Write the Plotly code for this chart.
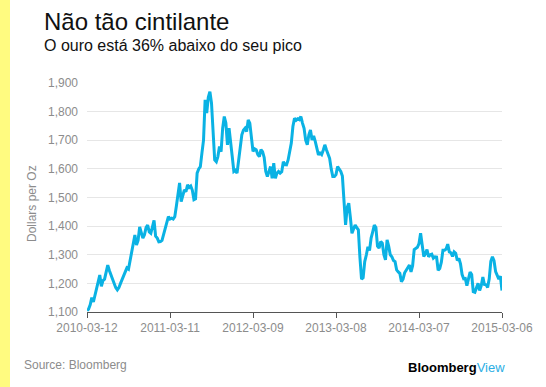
import pandas as pd
import plotly.graph_objects as go

# Weekly gold price (USD/oz), Friday closes, starting 2010-03-12
start_date = "2010-03-12"
prices_2010 = [1105, 1110, 1125, 1150, 1135, 1160, 1175, 1210, 1229, 1190, 1210, 1215, 1240, 1264,
               1245, 1230, 1210, 1195, 1185, 1177, 1185, 1200, 1215, 1228, 1240, 1254, 1250, 1280,
               1305, 1330, 1369, 1334, 1350, 1397, 1375, 1358, 1370, 1395, 1404, 1380, 1375, 1400, 1420]
prices_2011 = [1365, 1358, 1345, 1346, 1350, 1370, 1397, 1415, 1433, 1425, 1428, 1425, 1433, 1470,
               1503, 1551, 1486, 1505, 1527, 1520, 1544, 1535, 1540, 1525, 1492, 1495, 1585, 1600,
               1608, 1655, 1700, 1841, 1795, 1850, 1870, 1830, 1726, 1631, 1625, 1643, 1678, 1660,
               1742, 1783, 1760, 1684, 1742, 1700, 1643, 1591, 1595, 1585]
prices_2012 = [1625, 1665, 1719, 1735, 1742, 1730, 1771, 1760, 1713, 1661, 1670, 1667, 1650, 1643,
               1667, 1660, 1640, 1591, 1573, 1590, 1608, 1567, 1620, 1567, 1585, 1591, 1585, 1590,
               1625, 1615, 1614, 1631, 1665, 1690, 1748, 1777, 1770, 1775, 1772, 1783, 1760, 1742,
               1700, 1684, 1719, 1736, 1701, 1715, 1696, 1670, 1649, 1655]
prices_2013 = [1650, 1665, 1684, 1667, 1650, 1637, 1600, 1573, 1573, 1580, 1608, 1600, 1591, 1575,
               1470, 1404, 1465, 1480, 1430, 1375, 1390, 1404, 1395, 1387, 1290, 1215, 1220, 1276,
               1299, 1328, 1315, 1358, 1380, 1404, 1395, 1330, 1323, 1346, 1340, 1300, 1282, 1352,
               1330, 1300, 1293, 1280, 1276, 1247, 1240, 1235, 1206, 1215]
prices_2014 = [1237, 1247, 1252, 1264, 1240, 1262, 1318, 1323, 1326, 1339, 1375, 1334, 1294, 1303,
               1318, 1293, 1300, 1302, 1288, 1293, 1292, 1246, 1252, 1274, 1316, 1316, 1320, 1337,
               1310, 1307, 1294, 1310, 1305, 1280, 1287, 1268, 1231, 1216, 1217, 1192, 1222, 1239,
               1231, 1171, 1169, 1185, 1200, 1175, 1192, 1222, 1196, 1195]
prices_2015 = [1186, 1216, 1277, 1293, 1279, 1241, 1228, 1215, 1225, 1175]

prices = prices_2010 + prices_2011 + prices_2012 + prices_2013 + prices_2014 + prices_2015
dates = pd.date_range(start=start_date, periods=len(prices), freq="W-FRI")

x_ticks = ["2010-03-12", "2011-03-11", "2012-03-09", "2013-03-08", "2014-03-07", "2015-03-06"]
y_ticks = [1100, 1200, 1300, 1400, 1500, 1600, 1700, 1800, 1900]

W, H = 546, 387
L, R, T, B = 87, 44, 83, 75
PW, PH = W - L - R, H - T - B

def px(x):
    return (x - L) / PW

def py(y):
    return (H - B - y) / PH

FONT = "Liberation Sans, Arial, sans-serif"
GRAY = "#8c8c8c"

fig = go.Figure()
fig.add_trace(go.Scatter(x=dates, y=prices, mode="lines",
                         line=dict(color="#0ab2e4", width=3), hoverinfo="x+y"))

fig.update_layout(
    width=W, height=H,
    margin=dict(l=L, r=R, t=T, b=B),
    paper_bgcolor="white", plot_bgcolor="white",
    showlegend=False,
    xaxis=dict(
        range=[x_ticks[0], x_ticks[-1]],
        tickvals=x_ticks, ticktext=x_ticks,
        showgrid=False, zeroline=False,
        showline=True, linecolor="#555555", linewidth=1,
        ticks="outside", ticklen=5, tickcolor="#555555",
        tickfont=dict(family=FONT, size=12, color=GRAY),
    ),
    yaxis=dict(
        range=[1100, 1900],
        tickvals=y_ticks, tickformat=",d",
        showgrid=True, gridcolor="#e6e6e6", gridwidth=1,
        zeroline=False, showline=False, ticks="",
        ticklabelstandoff=8,
        tickfont=dict(family=FONT, size=12, color=GRAY),
    ),
    shapes=[dict(type="rect", xref="paper", yref="paper",
                 x0=px(0), x1=px(10), y0=py(H), y1=py(0),
                 fillcolor="#fffb80", line=dict(width=0), layer="above")],
    annotations=[
        dict(text="Não tão cintilante", xref="paper", yref="paper",
             x=px(42), y=py(22), xanchor="left", yanchor="middle", showarrow=False,
             font=dict(family=FONT, size=24, color="#111111")),
        dict(text="O ouro está 36% abaixo do seu pico", xref="paper", yref="paper",
             x=px(42), y=py(46), xanchor="left", yanchor="middle", showarrow=False,
             font=dict(family=FONT, size=16, color="#111111")),
        dict(text="Dollars per Oz", xref="paper", yref="paper",
             x=px(32), y=py(203), xanchor="center", yanchor="middle", showarrow=False,
             textangle=-90, font=dict(family=FONT, size=12, color=GRAY)),
        dict(text="Source: Bloomberg", xref="paper", yref="paper",
             x=px(22), y=py(365), xanchor="left", yanchor="middle", showarrow=False,
             font=dict(family=FONT, size=12, color=GRAY)),
        dict(text="<b>Bloomberg</b><span style='color:#2aaee4'>View</span>",
             xref="paper", yref="paper",
             x=px(507), y=py(367), xanchor="right", yanchor="middle", showarrow=False,
             font=dict(family=FONT, size=13, color="#000000")),
    ],
)

fig.write_html("out.html",
               config={"displayModeBar": False},
               post_script="document.body.style.margin='0';document.body.style.overflow='hidden';")
